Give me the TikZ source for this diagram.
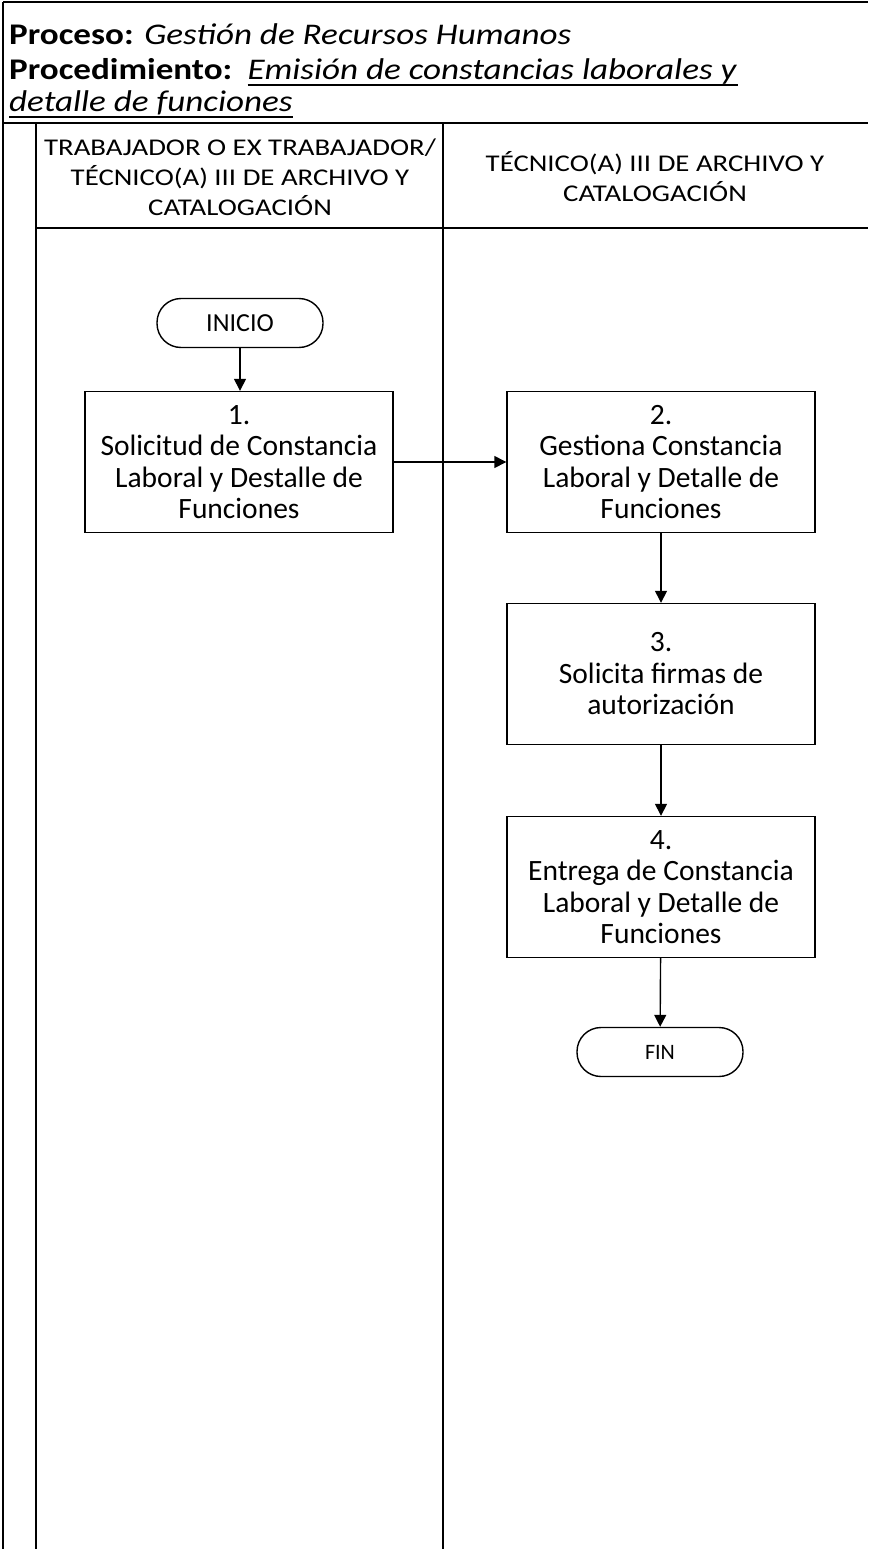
\documentclass[tikz,border=0pt]{standalone}
\usepackage{fontspec}
\setmainfont{Carlito}
\newfontfamily\widefont{Carlito}[FakeStretch=1.2]
\newfontfamily\titlefont{Carlito}[FakeStretch=1.17]
\usetikzlibrary{arrows.meta}
\begin{document}
\begin{tikzpicture}[x=1pt,y=-1pt,
  frame/.style={line width=2pt,black},
  stepbox/.style={draw,line width=1.4pt,minimum width=308pt,minimum height=141pt,
    align=center,inner sep=0pt,font=\fontsize{29.5}{31.5}\selectfont},
  terminal/.style={draw,line width=1.4pt,minimum width=166pt,minimum height=49pt,
    rounded corners=24pt,inner sep=0pt},
  flow/.style={line width=1.4pt,-{Triangle[length=12pt,width=12pt]}},
  lanehead/.style={align=center,font=\widefont\fontsize{24}{30}\selectfont},
  titletext/.style={anchor=base west,inner sep=0pt,font=\titlefont\fontsize{30}{34}\selectfont},
  uline/.style={line width=1.7pt}
]
\useasboundingbox (0,0) rectangle (868,1549);
\fill[white] (0,0) rectangle (868,1549);

% frame and swimlanes
\draw[frame] (3,2) -- (868,2);
\draw[frame] (3,2) -- (3,1549);
\draw[frame] (3,123) -- (868,123);
\draw[frame] (36,123) -- (36,1549);
\draw[frame] (443,123) -- (443,1549);
\draw[frame] (36,228) -- (868,228);

% title block
\node[titletext] (t1) at (9,45) {\textbf{Proceso:} \textit{Gestión de Recursos Humanos}};
\node[titletext] (t2a) at (9,80) {\textbf{Procedimiento:}};
\node[titletext] (t2b) at ([xshift=15pt]t2a.base east) {\textit{Emisión de constancias laborales y}};
\node[titletext] (t3) at (9,112) {\textit{detalle de funciones}};
\draw[uline] ([yshift=-5pt]t2b.base west) -- ([yshift=-5pt]t2b.base east);
\draw[uline] ([yshift=-5pt]t3.base west) -- ([yshift=-5pt]t3.base east);

% lane headers
\node[lanehead] (h1) at (240,177) {TRABAJADOR O EX TRABAJADOR/\\TÉCNICO(A) III DE ARCHIVO Y\\CATALOGACIÓN};
\node[lanehead] (h2) at (655,177) {TÉCNICO(A) III DE ARCHIVO Y\\CATALOGACIÓN};

% flow
\node[terminal,font=\fontsize{26}{30}\selectfont] (ini) at (240,323) {INICIO};
\node[stepbox] (s1) at (239,462) {1.\\Solicitud de Constancia\\Laboral y Destalle de\\Funciones};
\node[stepbox] (s2) at (661,462) {2.\\Gestiona Constancia\\Laboral y Detalle de\\Funciones};
\node[stepbox] (s3) at (661,674) {3.\\Solicita firmas de\\autorización};
\node[stepbox] (s4) at (661,887) {4.\\Entrega de Constancia\\Laboral y Detalle de\\Funciones};
\node[terminal,font=\fontsize{22}{26}\selectfont] (fin) at (660,1052) {FIN};

\draw[flow] (ini) -- (ini |- s1.north);
\draw[flow] (s1.east) -- (s2.west);
\draw[flow] (s2) -- (s3);
\draw[flow] (s3) -- (s4);
\draw[flow] (s4) -- (fin);
\end{tikzpicture}
\end{document}
